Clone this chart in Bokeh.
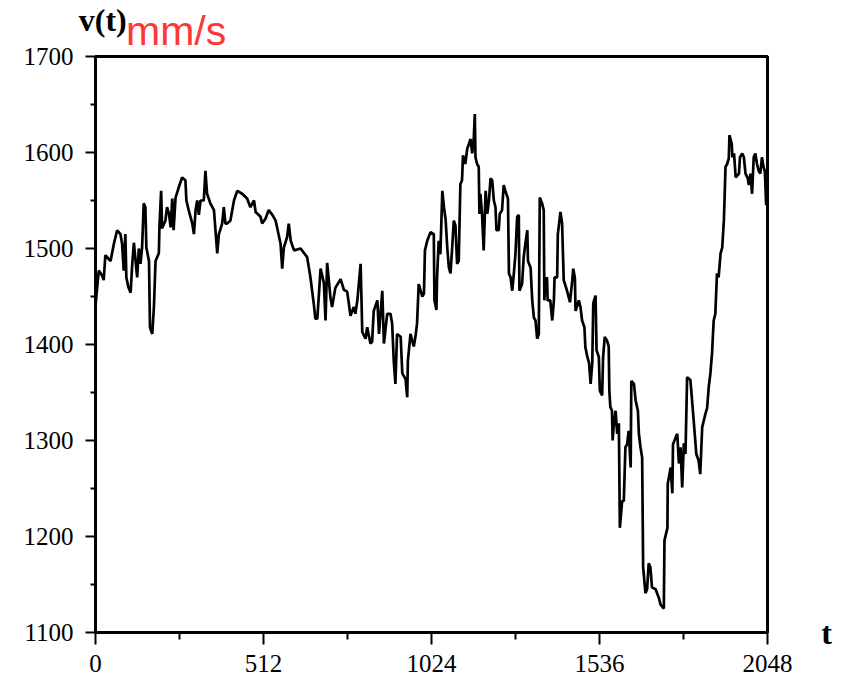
from bokeh.plotting import figure
from bokeh.models import Range1d, FixedTicker, Label
from bokeh.embed import file_html
from bokeh.resources import INLINE

# ---- data ----
t_vals = [0, 3, 10, 20, 25, 30, 46, 56, 66, 76, 81, 86, 91, 94, 100, 107, 112, 117, 124, 127,
          132, 137, 142, 147, 152, 155, 163, 166, 173, 178, 183, 193, 195, 200, 203, 213, 218, 224, 229, 234,
          238, 244, 254, 264, 274, 277, 284, 295, 300, 305, 310, 315, 320, 330, 335, 340, 350, 361, 371, 376,
          386, 391, 396, 401, 411, 422, 432, 447, 462, 472, 483, 488, 503, 508, 518, 528, 539, 549, 564, 569,
          574, 584, 589, 595, 605, 625, 645, 655, 665, 670, 676, 686, 696, 701, 706, 716, 721, 731, 747, 757,
          767, 772, 777, 787, 792, 798, 808, 813, 823, 828, 838, 843, 848, 859, 864, 874, 879, 889, 899, 904,
          909, 914, 919, 930, 935, 945, 950, 952, 960, 965, 970, 975, 980, 985, 996, 1001, 1004, 1011, 1021, 1031,
          1033, 1039, 1041, 1046, 1051, 1057, 1062, 1067, 1072, 1077, 1082, 1087, 1092, 1097, 1102, 1107, 1112, 1117, 1120, 1127,
          1133, 1138, 1143, 1148, 1153, 1156, 1158, 1163, 1168, 1170, 1173, 1178, 1183, 1189, 1194, 1199, 1204, 1209, 1214, 1219,
          1222, 1229, 1232, 1239, 1244, 1249, 1257, 1260, 1265, 1270, 1275, 1280, 1285, 1290, 1292, 1300, 1305, 1310, 1316, 1318,
          1326, 1331, 1336, 1341, 1346, 1351, 1354, 1361, 1366, 1368, 1371, 1376, 1378, 1386, 1392, 1397, 1399, 1407, 1409, 1417,
          1422, 1427, 1437, 1446, 1453, 1456, 1461, 1463, 1473, 1478, 1483, 1490, 1493, 1499, 1504, 1509, 1514, 1517, 1524, 1527,
          1534, 1537, 1544, 1547, 1552, 1559, 1564, 1566, 1569, 1574, 1576, 1579, 1585, 1590, 1595, 1598, 1605, 1610, 1615, 1620,
          1625, 1631, 1633, 1641, 1646, 1653, 1656, 1661, 1666, 1669, 1676, 1681, 1686, 1691, 1696, 1707, 1717, 1722, 1732, 1734,
          1743, 1744, 1753, 1758, 1760, 1768, 1773, 1778, 1783, 1788, 1793, 1798, 1803, 1813, 1818, 1823, 1831, 1838, 1843, 1849,
          1859, 1864, 1869, 1874, 1879, 1884, 1889, 1894, 1899, 1905, 1910, 1915, 1917, 1920, 1925, 1930, 1932, 1939, 1941, 1946,
          1951, 1961, 1964, 1971, 1976, 1981, 1988, 1991, 1996, 2001, 2006, 2011, 2016, 2021, 2026, 2031, 2036, 2040, 2044]
v_vals = [1440, 1452, 1477, 1472, 1467, 1493, 1487, 1505, 1519, 1515, 1505, 1477, 1515, 1470, 1460, 1454, 1484, 1506, 1480, 1470,
          1500, 1484, 1501, 1547, 1543, 1501, 1487, 1418, 1411, 1439, 1487, 1495, 1524, 1560, 1521, 1529, 1543, 1536, 1522, 1552,
          1519, 1553, 1564, 1574, 1571, 1550, 1540, 1526, 1515, 1540, 1550, 1535, 1550, 1550, 1581, 1557, 1547, 1540, 1495, 1515,
          1526, 1543, 1526, 1526, 1529, 1550, 1560, 1557, 1552, 1543, 1550, 1538, 1533, 1526, 1531, 1540, 1535, 1529, 1505, 1479,
          1501, 1512, 1526, 1508, 1498, 1500, 1491, 1470, 1443, 1427, 1427, 1479, 1464, 1425, 1485, 1449, 1439, 1459, 1468, 1457,
          1455, 1443, 1430, 1439, 1432, 1446, 1484, 1413, 1406, 1418, 1401, 1403, 1435, 1446, 1411, 1456, 1401, 1432, 1432, 1422,
          1383, 1359, 1411, 1408, 1370, 1364, 1345, 1383, 1411, 1404, 1398, 1408, 1422, 1463, 1450, 1453, 1498, 1508, 1517, 1515,
          1446, 1436, 1470, 1508, 1494, 1560, 1543, 1530, 1501, 1480, 1474, 1501, 1529, 1524, 1484, 1487, 1567, 1571, 1597, 1588,
          1604, 1609, 1614, 1599, 1616, 1640, 1595, 1588, 1585, 1536, 1557, 1536, 1498, 1560, 1536, 1550, 1573, 1571, 1550, 1543,
          1519, 1519, 1536, 1540, 1566, 1560, 1552, 1474, 1470, 1456, 1474, 1495, 1533, 1535, 1456, 1463, 1491, 1505, 1519, 1487,
          1480, 1446, 1428, 1425, 1406, 1411, 1553, 1547, 1540, 1446, 1467, 1470, 1446, 1446, 1425, 1446, 1470, 1470, 1515, 1538,
          1526, 1467, 1456, 1444, 1467, 1479, 1469, 1435, 1446, 1439, 1425, 1418, 1397, 1387, 1381, 1359, 1381, 1443, 1451, 1394,
          1387, 1352, 1347, 1387, 1408, 1404, 1398, 1352, 1335, 1331, 1300, 1314, 1331, 1307, 1318, 1209, 1237, 1237, 1293, 1296,
          1310, 1272, 1362, 1359, 1342, 1331, 1307, 1293, 1282, 1168, 1141, 1145, 1172, 1168, 1147, 1145, 1136, 1129, 1125, 1196,
          1209, 1255, 1272, 1245, 1296, 1303, 1307, 1276, 1293, 1251, 1297, 1286, 1366, 1363, 1342, 1321, 1286, 1279, 1265, 1314,
          1328, 1334, 1356, 1370, 1391, 1425, 1432, 1474, 1470, 1495, 1501, 1529, 1550, 1585, 1588, 1594, 1618, 1609, 1595, 1599,
          1574, 1578, 1595, 1599, 1595, 1578, 1573, 1566, 1578, 1557, 1595, 1599, 1588, 1581, 1578, 1595, 1585, 1580, 1545]

x_ticks = [0, 512, 1024, 1536, 2048]
x_minor = [256, 768, 1280, 1792]
y_ticks = [1100, 1200, 1300, 1400, 1500, 1600, 1700]
y_minor = [1150, 1250, 1350, 1450, 1550, 1650]

y_name = "v(t)"
y_unit = "mm/s"
x_name = "t"

p = figure(width=844, height=682, output_backend="svg", toolbar_location=None,
           x_range=Range1d(0, 2048), y_range=Range1d(1100, 1700),
           min_border_left=95, min_border_right=77, min_border_top=56, min_border_bottom=50)
p.grid.visible = False
p.background_fill_color = "white"
p.border_fill_color = "white"
p.outline_line_color = "black"
p.outline_line_width = 3

p.xaxis.ticker = FixedTicker(ticks=x_ticks, minor_ticks=x_minor)
p.yaxis.ticker = FixedTicker(ticks=y_ticks, minor_ticks=y_minor)

for ax in (p.xaxis, p.yaxis):
    ax.axis_line_width = 3
    ax.axis_line_color = "black"
    ax.major_tick_line_width = 2
    ax.minor_tick_line_width = 2
    ax.major_tick_in = 0
    ax.minor_tick_in = 0
    ax.major_label_text_font = "Liberation Serif"
    ax.major_label_text_font_size = "25px"
    ax.major_label_text_color = "black"

p.xaxis.major_tick_out = 12
p.xaxis.minor_tick_out = 7
p.xaxis.major_label_standoff = 10
p.yaxis.major_tick_out = 10
p.yaxis.minor_tick_out = 5
p.yaxis.major_label_standoff = 12

p.line(t_vals, v_vals, line_color="black", line_width=2.7)

# texts placed in side panels so that they are not clipped to the frame
p.add_layout(Label(x=93, y=1727, text=y_unit, text_font="Liberation Sans",
                   text_font_size="41px", text_color="#ff3636",
                   text_baseline="alphabetic", text_align="left"), "above")
p.add_layout(Label(x=-51, y=1738, text=y_name, text_font="Liberation Serif",
                   text_font_style="bold", text_font_size="32px", text_color="black",
                   text_baseline="alphabetic", text_align="left"), "right")
p.add_layout(Label(x=2228, y=1100, text=x_name, text_font="Liberation Serif",
                   text_font_style="bold", text_font_size="32px", text_color="black",
                   text_baseline="alphabetic", text_align="center"), "right")

open("out.html", "w").write(file_html(p, INLINE))
